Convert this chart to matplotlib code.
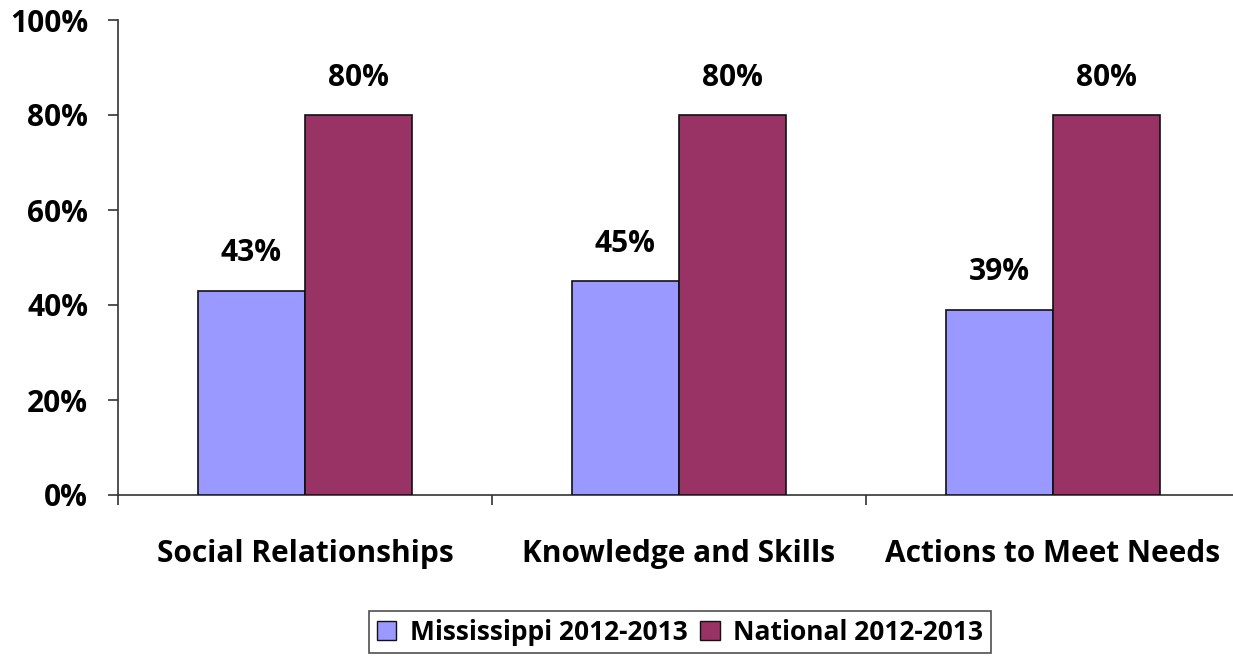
import matplotlib
matplotlib.use("Agg")
import matplotlib.pyplot as plt
import numpy as np
from matplotlib.patches import Patch

categories = ["Social Relationships", "Knowledge and Skills", "Actions to Meet Needs"]
series_names = ["Mississippi 2012-2013", "National 2012-2013"]
mississippi = [43, 45, 39]
national = [80, 80, 80]
colors = ["#9999FF", "#993366"]

plt.rcParams['font.family'] = ['Open Sans', 'DejaVu Sans']
plt.rcParams['font.weight'] = 'bold'

FS = 21.5
W, H = 1233, 656
fig = plt.figure(figsize=(W/100, H/100), dpi=100)
ax = fig.add_axes([118/W, 1-495/H, (1240-118)/W, (495-20)/H])

x = np.arange(len(categories))
bw = 0.287
values = [mississippi, national]
for i, (vals, c) in enumerate(zip(values, colors)):
    pos = x + (i - 0.5) * bw
    ax.bar(pos, vals, width=bw, color=c, edgecolor='#111111', linewidth=1.2, zorder=3)
    for p, v in zip(pos, vals):
        ax.annotate(f"{v}%", (p, v), xytext=(0, 27), textcoords='offset points',
                    ha='center', va='center', fontsize=FS, fontweight='bold')

ax.set_xlim(-0.5, len(categories) - 0.5)
ax.set_ylim(0, 100)
ax.set_yticks(range(0, 101, 20))
ax.set_yticklabels([f"{t}%" for t in range(0, 101, 20)], fontsize=FS, fontweight='bold')
ax.set_xticks(x)
ax.set_xticklabels(categories, fontsize=FS, fontweight='bold')
ax.tick_params(axis='x', length=0, pad=32)
ax.set_xticks(np.arange(-0.5, len(categories), 1), minor=True)
ax.tick_params(axis='x', which='minor', length=7.5, width=1.2, direction='out', color='#333333')
ax.tick_params(axis='y', length=7.5, width=1.2, direction='out', color='#333333', pad=14)
for s in ['top', 'right']:
    ax.spines[s].set_visible(False)
for s in ['left', 'bottom']:
    ax.spines[s].set_color('#333333')
    ax.spines[s].set_linewidth(1.2)

handles = [Patch(facecolor=c, edgecolor='#111111', label=n) for c, n in zip(colors, series_names)]
leg = fig.legend(handles=handles, loc='center', bbox_to_anchor=(680/W, 1-632/H), ncol=2,
                 frameon=True, fancybox=False, edgecolor='#222222',
                 handlelength=0.75, handleheight=0.75, handletextpad=0.5, columnspacing=0.5,
                 borderpad=0.3, borderaxespad=0, prop={'weight': 'bold', 'size': 19})
leg.get_frame().set_linewidth(1.2)

fig.savefig("out.png", dpi=100)
